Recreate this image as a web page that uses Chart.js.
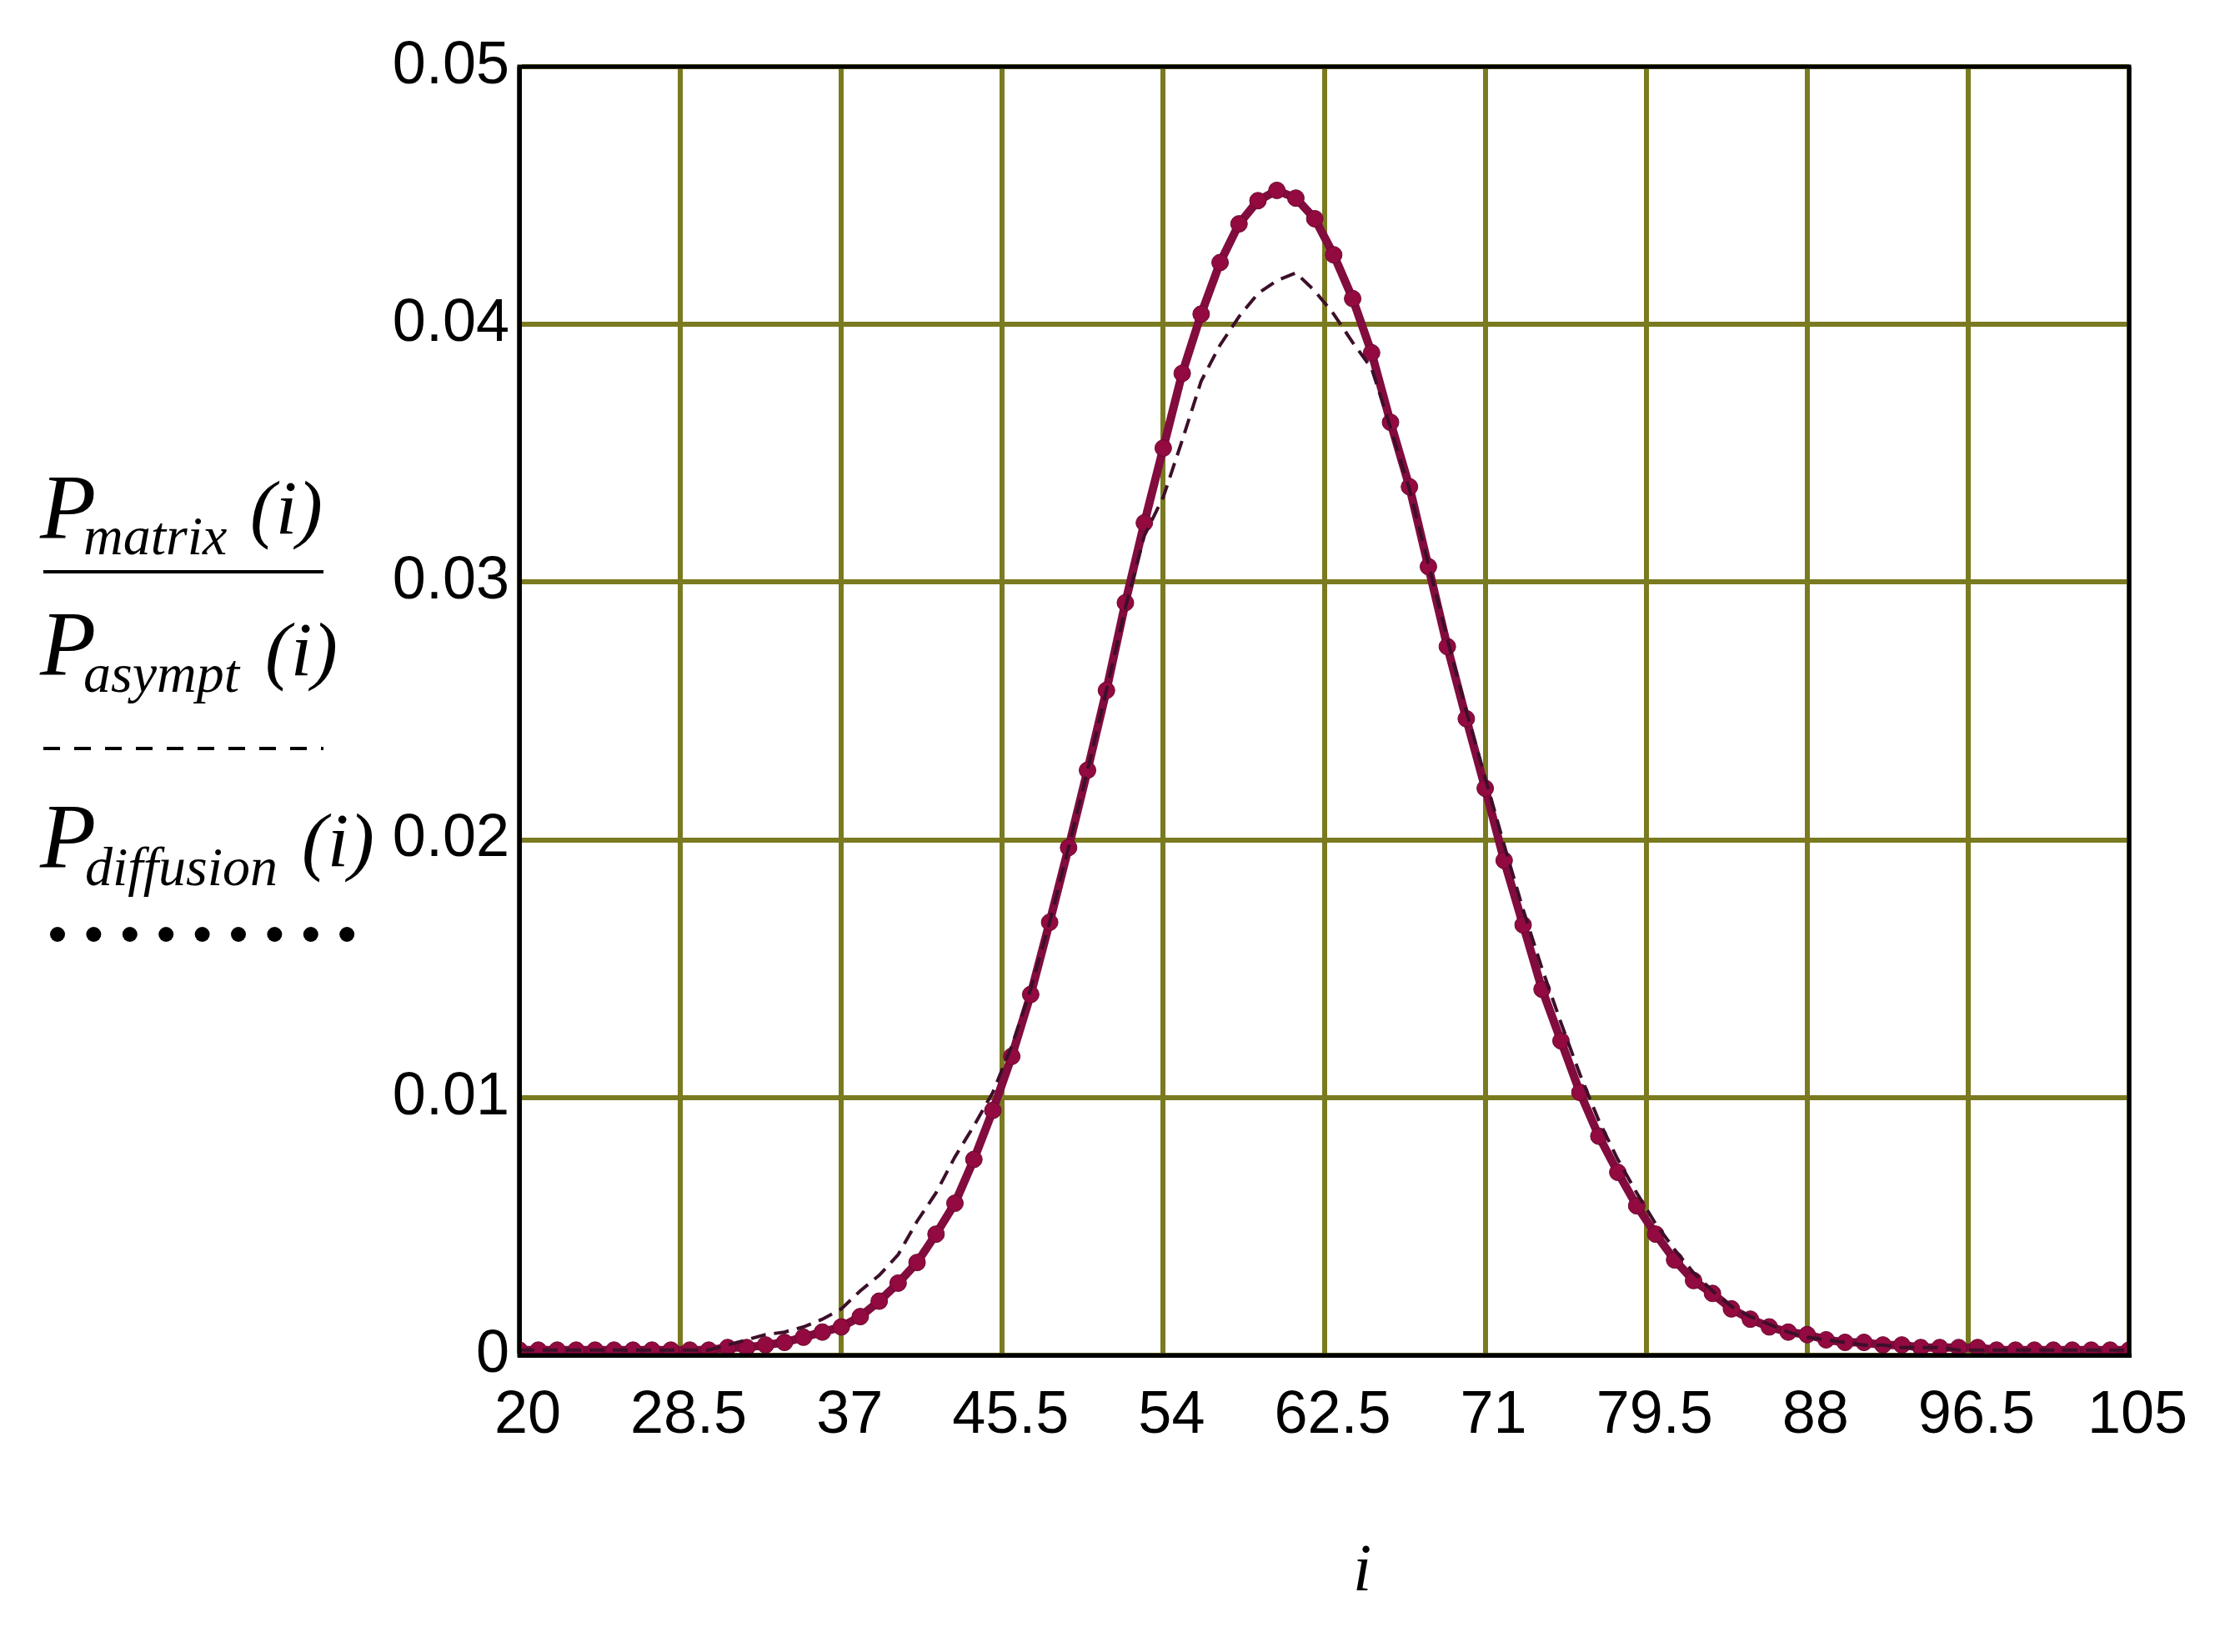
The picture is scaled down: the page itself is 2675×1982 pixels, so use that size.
<!DOCTYPE html>
<html>
<head>
<meta charset="utf-8">
<script src="https://cdn.jsdelivr.net/npm/chart.js@4.4.1/dist/chart.umd.min.js"></script>
<style>
html,body{margin:0;padding:0;background:#fff;}
#wrap{position:absolute;left:0;top:0;width:2675px;height:1982px;}
</style>
</head>
<body>
<div id="wrap"><canvas id="c" width="2675" height="1982"></canvas></div>
<script>
// ---- data ----
const iValues = [20,21,22,23,24,25,26,27,28,29,30,31,32,33,34,35,36,37,38,39,40,41,42,43,44,45,46,47,48,49,50,51,52,53,54,55,56,57,58,59,60,61,62,63,64,65,66,67,68,69,70,71,72,73,74,75,76,77,78,79,80,81,82,83,84,85,86,87,88,89,90,91,92,93,94,95,96,97,98,99,100,101,102,103,104,105];
const pMatrix = [0.0002,0.0002,0.0002,0.0002,0.0002,0.0002,0.0002,0.0002,0.0002,0.0002,0.0002,0.0003,0.0003,0.0004,0.0005,0.0007,0.0009,0.0011,0.0015,0.0021,0.0028,0.0036,0.0047,0.0059,0.0076,0.0095,0.0116,0.0140,0.0168,0.0197,0.0227,0.0258,0.0292,0.0323,0.0352,0.0381,0.0404,0.0424,0.0439,0.0448,0.0452,0.0449,0.0441,0.0427,0.0410,0.0389,0.0362,0.0337,0.0306,0.0275,0.0247,0.0220,0.0192,0.0167,0.0142,0.0122,0.0102,0.0085,0.0071,0.0058,0.0047,0.0037,0.0029,0.0024,0.0018,0.0014,0.0011,0.0009,0.0008,0.0006,0.0005,0.0005,0.0004,0.0004,0.0003,0.0003,0.0003,0.0003,0.0002,0.0002,0.0002,0.0002,0.0002,0.0002,0.0002,0.0002];
const pAsympt = [0.0002,0.0002,0.0002,0.0002,0.0002,0.0002,0.0002,0.0002,0.0002,0.0002,0.0002,0.0004,0.0006,0.0008,0.0009,0.0011,0.0014,0.0018,0.0025,0.0031,0.0039,0.0052,0.0063,0.0077,0.0089,0.0102,0.0120,0.0142,0.0168,0.0197,0.0227,0.0258,0.0290,0.0318,0.0333,0.0355,0.0378,0.0392,0.0403,0.0412,0.0417,0.0420,0.0413,0.0404,0.0393,0.0383,0.0360,0.0336,0.0307,0.0278,0.0250,0.0224,0.0198,0.0173,0.0150,0.0129,0.0109,0.0091,0.0076,0.0063,0.0051,0.0041,0.0032,0.0025,0.0019,0.0015,0.0012,0.0009,0.0007,0.0006,0.0005,0.0004,0.0004,0.0003,0.0003,0.0003,0.0002,0.0002,0.0002,0.0002,0.0002,0.0002,0.0002,0.0002,0.0002,0.0002];
const pDiffusion = [0.0002,0.0002,0.0002,0.0002,0.0002,0.0002,0.0002,0.0002,0.0002,0.0002,0.0002,0.0003,0.0003,0.0004,0.0005,0.0007,0.0009,0.0011,0.0015,0.0021,0.0028,0.0036,0.0047,0.0059,0.0076,0.0095,0.0116,0.0140,0.0168,0.0197,0.0227,0.0258,0.0292,0.0323,0.0352,0.0381,0.0404,0.0424,0.0439,0.0448,0.0452,0.0449,0.0441,0.0427,0.0410,0.0389,0.0362,0.0337,0.0306,0.0275,0.0247,0.0220,0.0192,0.0167,0.0142,0.0122,0.0102,0.0085,0.0071,0.0058,0.0047,0.0037,0.0029,0.0024,0.0018,0.0014,0.0011,0.0009,0.0008,0.0006,0.0005,0.0005,0.0004,0.0004,0.0003,0.0003,0.0003,0.0003,0.0002,0.0002,0.0002,0.0002,0.0002,0.0002,0.0002,0.0002];
const xTickLabels = ['20','28.5','37','45.5','54','62.5','71','79.5','88','96.5','105'];
const yTickLabels = ['0','0.01','0.02','0.03','0.04','0.05'];
const xAxisTitle = 'i';
const legendRows = [
  {sub:'matrix'}, {sub:'asympt'}, {sub:'diffusion'}
];

const pts = arr => iValues.map((x,k)=>({x:x, y:arr[k]}));
const tickFont = {family:'"Liberation Sans Narrow","Liberation Sans",Arial,sans-serif', size:72};
const GRID = '#7a7a20';

// frame + left legend + axis title plugin
const extras = {
  id:'extras',
  afterDraw(chart){
    const ctx = chart.ctx, a = chart.chartArea;
    ctx.save();
    ctx.strokeStyle = '#000'; ctx.lineWidth = 5;
    ctx.strokeRect(a.left, a.top, a.right-a.left, a.bottom-a.top);
    ctx.fillStyle = '#000';
    // axis title
    ctx.font = 'italic 80px "Liberation Serif", serif';
    ctx.textAlign = 'center'; ctx.textBaseline = 'alphabetic';
    ctx.fillText(xAxisTitle, 1634, 1908);
    // legend rows
    ctx.textAlign = 'left';
    const rows = [
      {pB:645, sx:100, sB:665, ix:300, iB:640},
      {pB:809, sx:100, sB:830, ix:318, iB:810},
      {pB:1040, sx:102, sB:1062, ix:362, iB:1039}
    ];
    rows.forEach((r,k)=>{
      ctx.font = 'italic 110px "Liberation Serif", serif';
      ctx.fillText('P', 48, r.pB);
      ctx.font = 'italic 66px "Liberation Serif", serif';
      ctx.fillText(legendRows[k].sub, r.sx, r.sB);
      ctx.font = 'italic 92px "Liberation Serif", serif';
      ctx.fillText('(i)', r.ix, r.iB);
    });
    // solid sample (fraction line)
    ctx.lineWidth = 4; ctx.strokeStyle = '#000';
    ctx.beginPath(); ctx.moveTo(52,686); ctx.lineTo(388,686); ctx.stroke();
    // dashed sample
    ctx.setLineDash([20,17]);
    ctx.beginPath(); ctx.moveTo(52,898); ctx.lineTo(388,898); ctx.stroke();
    ctx.setLineDash([]);
    // dotted sample
    for(let d=0; d<9; d++){
      ctx.beginPath(); ctx.arc(69 + d*43.4, 1121, 9, 0, Math.PI*2); ctx.fill();
    }
    ctx.restore();
  }
};

new Chart(document.getElementById('c'), {
  type:'line',
  data:{
    datasets:[
      {label:'P_asympt', data:pts(pAsympt), borderColor:'#3d0f2a', borderWidth:4, borderDash:[18,10], pointRadius:0, fill:false, order:1},
      {label:'P_diffusion', data:pts(pDiffusion), showLine:false, pointRadius:10, pointBackgroundColor:'#920a40', pointBorderColor:'#6a0830', pointBorderWidth:1, order:2},
      {label:'P_matrix', data:pts(pMatrix), borderColor:'#820c3e', borderWidth:10, pointRadius:0, fill:false, order:3}
    ]
  },
  options:{
    responsive:false, animation:false, devicePixelRatio:1,
    layout:{padding:{left:0, top:80, right:121, bottom:0}},
    plugins:{legend:{display:false}, tooltip:{enabled:false}},
    scales:{
      x:{
        type:'linear', min:20, max:105,
        afterBuildTicks(s){ s.ticks = xTickLabels.map(v=>({value:parseFloat(v)})); },
        afterFit(s){ s.height = 356; },
        ticks:{ font:tickFont, color:'#000', padding:30, labelOffset:10, maxRotation:0, autoSkip:false,
          callback:(v,idx)=>xTickLabels[idx] },
        grid:{ color:GRID, lineWidth:6, drawTicks:false },
        border:{ display:true, color:'#000', width:5 }
      },
      y:{
        type:'linear', min:0, max:0.05,
        afterBuildTicks(s){ s.ticks = yTickLabels.map(v=>({value:parseFloat(v)})); },
        afterFit(s){ s.width = 623; },
        ticks:{ font:tickFont, color:'#000', padding:12, autoSkip:false,
          callback:(v,idx)=>yTickLabels[idx] },
        grid:{ color:GRID, lineWidth:6, drawTicks:false },
        border:{ display:true, color:'#000', width:5 }
      }
    }
  },
  plugins:[extras]
});
</script>
</body>
</html>
